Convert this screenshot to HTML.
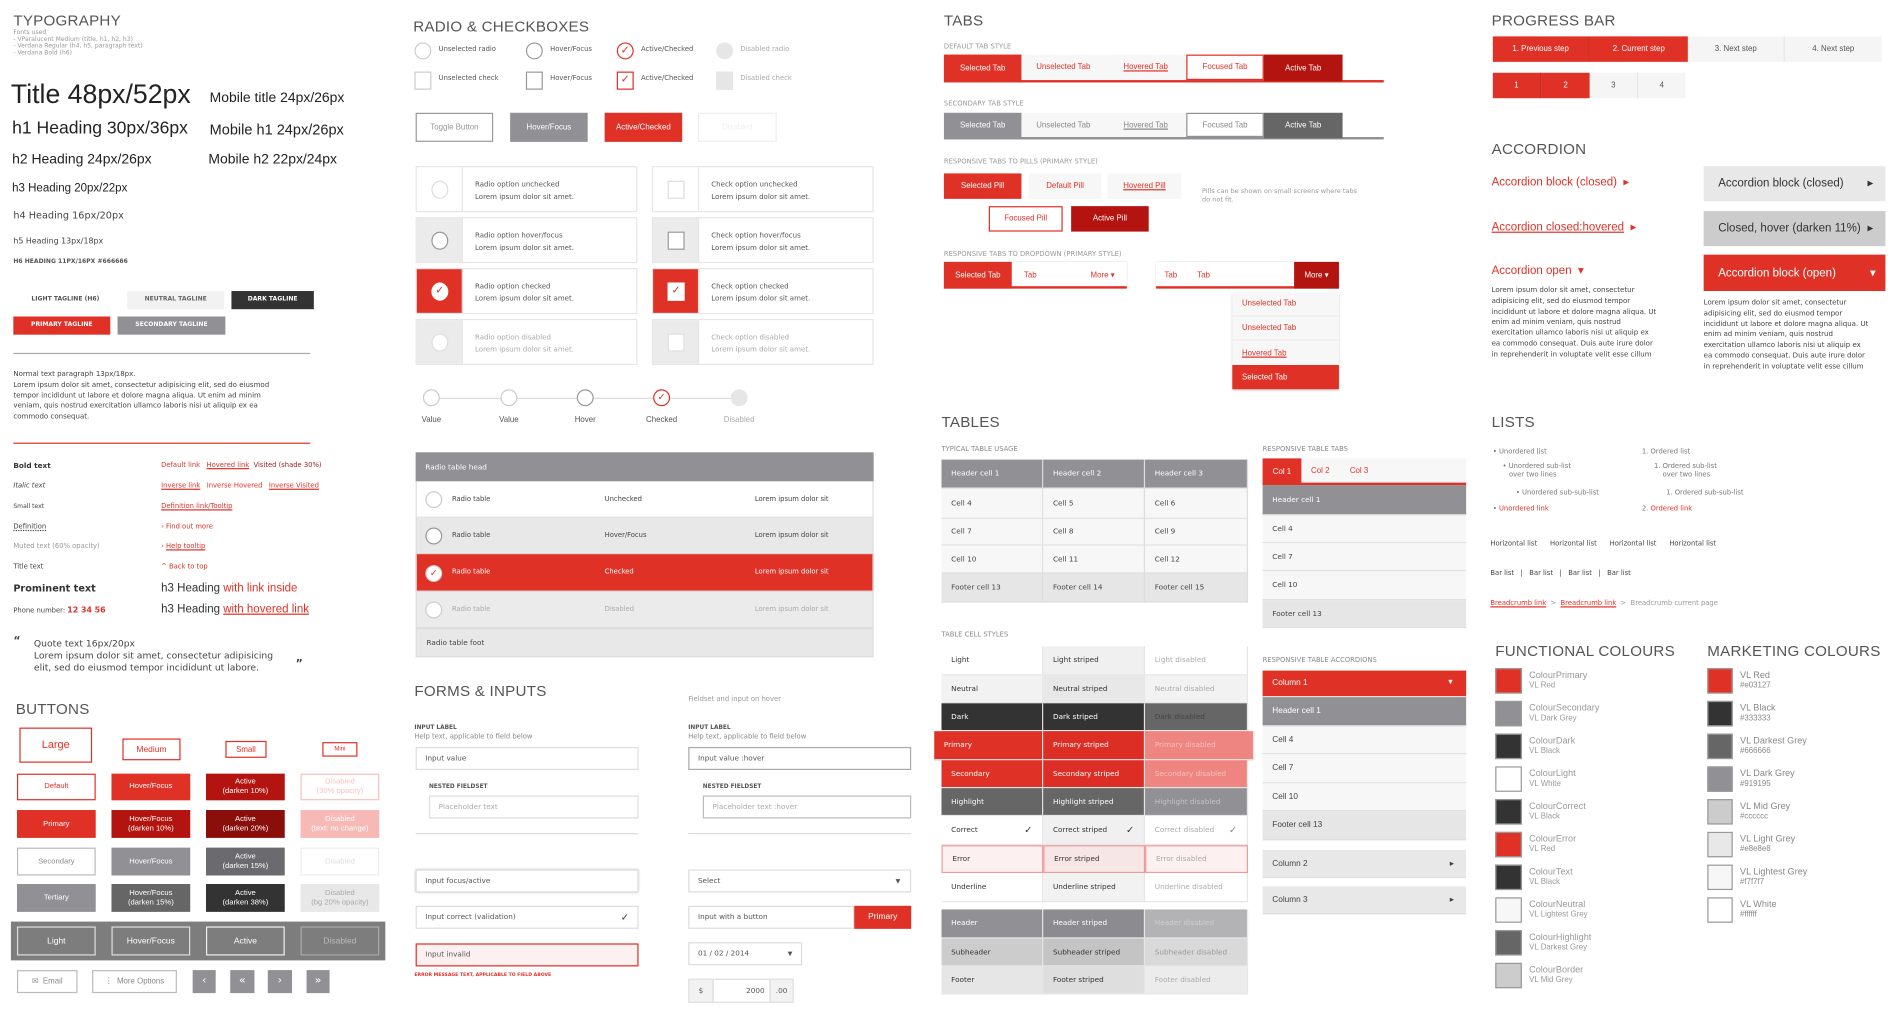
<!DOCTYPE html>
<html><head><meta charset="utf-8"><title>UI Kit</title>
<style>
html,body{margin:0;padding:0;background:#fff;width:1900px;height:1021px;overflow:hidden}
#w{position:absolute;left:0;top:0;width:1568px;height:843px;transform:scale(1.2117,1.2126);transform-origin:0 0;font-family:"DejaVu Sans","Liberation Sans",sans-serif;color:#333}
.a{position:absolute;white-space:nowrap}
.n{font-family:"Liberation Sans Narrow","Liberation Sans",sans-serif}
.h{position:absolute;font-family:"Liberation Sans Narrow","Liberation Sans",sans-serif;font-size:12.5px;color:#555;line-height:12px;white-space:nowrap;letter-spacing:.2px}
.s{position:absolute;font-size:5.6px;color:#777;line-height:7px;white-space:nowrap}
.b{position:absolute;display:flex;align-items:center;justify-content:center;box-sizing:border-box;font-size:6px;white-space:nowrap;text-align:center;line-height:7px}
.l{justify-content:flex-start;padding-left:8px}
.r{color:#e03127}
.u{text-decoration:underline}
.ci{position:absolute;box-sizing:border-box;border:1px solid #ccc;border-radius:50%;background:#fff}
.sq{position:absolute;box-sizing:border-box;border:1px solid #ccc;background:#fff}
.t6{font-size:6px;line-height:7px}
.card{position:absolute;box-sizing:border-box;border:1px solid #e6e6e6;background:#fff;width:183px;height:38px}
.ico{position:absolute;left:0;top:0;width:38px;height:100%;box-sizing:border-box;border-right:1px solid #e6e6e6}
.ct{position:absolute;left:48px;top:10px;font-size:5.8px;line-height:10px;color:#555;white-space:nowrap}
.rt{position:absolute;left:343px;width:378px;box-sizing:border-box}
.inp{position:absolute;box-sizing:border-box;border:1px solid #ddd;background:#fff;font-size:6px;display:flex;align-items:center;padding-left:7px;color:#555}
</style></head>
<body>
<div id="w">

<!-- TYPOGRAPHY -->
<div class="h" style="left:11px;top:11px">TYPOGRAPHY</div>
<div class="s" style="left:11px;top:25px;font-size:5px;line-height:5.6px;color:#999">Fonts used<br>- VParalucent Medium (title, h1, h2, h3)<br>- Verdana Regular (h4, h5, paragraph text)<br>- Verdana Bold (h6)</div>
<div class="a n" style="left:9px;top:67px;font-size:22px;line-height:22px;color:#222">Title 48px/52px</div>
<div class="a n" style="left:173px;top:75px;font-size:11.5px;line-height:12px;color:#222">Mobile title 24px/26px</div>
<div class="a n" style="left:10px;top:99px;font-size:14.5px;line-height:15px;color:#222">h1 Heading 30px/36px</div>
<div class="a n" style="left:173px;top:101px;font-size:12px;line-height:12px;color:#222">Mobile h1 24px/26px</div>
<div class="a n" style="left:10px;top:126px;font-size:11.5px;line-height:12px;color:#222">h2 Heading 24px/26px</div>
<div class="a n" style="left:172px;top:126px;font-size:11.5px;line-height:12px;color:#222">Mobile h2 22px/24px</div>
<div class="a n" style="left:10px;top:151px;font-size:9.5px;line-height:10px;color:#222">h3 Heading 20px/22px</div>
<div class="a" style="left:11px;top:173px;font-size:8px;line-height:9px;color:#444">h4 Heading 16px/20px</div>
<div class="a" style="left:11px;top:195px;font-size:6.5px;line-height:8px;color:#444">h5 Heading 13px/18px</div>
<div class="a" style="left:11px;top:213px;font-size:5px;line-height:6px;color:#555;font-weight:bold">H6 HEADING 11PX/16PX #666666</div>
<div class="b" style="left:11px;top:240px;width:86px;height:15px;font-size:5px;font-weight:bold;color:#555">LIGHT TAGLINE (H6)</div>
<div class="b" style="left:105px;top:240px;width:80px;height:15px;font-size:5px;font-weight:bold;color:#666;background:#f2f2f2">NEUTRAL TAGLINE</div>
<div class="b" style="left:191px;top:240px;width:68px;height:15px;font-size:5px;font-weight:bold;color:#fff;background:#333">DARK TAGLINE</div>
<div class="b" style="left:11px;top:261px;width:80px;height:15px;font-size:5px;font-weight:bold;color:#fff;background:#e03127">PRIMARY TAGLINE</div>
<div class="b" style="left:97px;top:261px;width:89px;height:15px;font-size:5px;font-weight:bold;color:#fff;background:#919195">SECONDARY TAGLINE</div>
<div class="a" style="left:11px;top:291px;width:245px;height:1px;background:#aaa"></div>
<div class="s" style="left:11px;top:305px;font-size:5.8px;line-height:8.8px;color:#444">Normal text paragraph 13px/18px.<br>Lorem ipsum dolor sit amet, consectetur adipisicing elit, sed do eiusmod<br>tempor incididunt ut labore et dolore magna aliqua. Ut enim ad minim<br>veniam, quis nostrud exercitation ullamco laboris nisi ut aliquip ex ea<br>commodo consequat.</div>
<div class="a" style="left:11px;top:365px;width:245px;height:1px;background:#e03127"></div>

<div class="s" style="left:11px;top:381px;font-weight:bold;color:#333;font-size:6px">Bold text</div>
<div class="s" style="left:11px;top:398px;font-style:italic;color:#444">Italic text</div>
<div class="s" style="left:11px;top:415px;font-size:5px;color:#444">Small text</div>
<div class="s u" style="left:11px;top:432px;color:#444;text-decoration-style:dotted">Definition</div>
<div class="s" style="left:11px;top:448px;color:#999">Muted text (60% opacity)</div>
<div class="s" style="left:11px;top:465px;color:#444">Title text</div>
<div class="a" style="left:11px;top:481px;font-size:8px;line-height:10px;font-weight:bold;color:#333">Prominent text</div>
<div class="s" style="left:11px;top:500px;color:#444">Phone number: <b class="r" style="font-size:6.5px">12 34 56</b></div>

<div class="s r" style="left:133px;top:381px">Default link &nbsp; <span class="u">Hovered link</span> &nbsp;<span style="color:#9c1d16">Visited (shade 30%)</span></div>
<div class="s r" style="left:133px;top:398px"><span class="u">Inverse link</span> &nbsp; Inverse Hovered &nbsp; <span class="u">Inverse Visited</span></div>
<div class="s r u" style="left:133px;top:415px">Definition link/Tooltip</div>
<div class="s r" style="left:133px;top:432px">› Find out more</div>
<div class="s r" style="left:133px;top:448px">› <span class="u">Help tooltip</span></div>
<div class="s r" style="left:133px;top:465px">^ Back to top</div>
<div class="a n" style="left:133px;top:480px;font-size:9.5px;line-height:11px;color:#333">h3 Heading <span class="r">with link inside</span></div>
<div class="a n" style="left:133px;top:497px;font-size:9.5px;line-height:11px;color:#333">h3 Heading <span class="r u">with hovered link</span></div>
<div class="a" style="left:11px;top:524px;font-size:9px;font-weight:bold;color:#444">“</div>
<div class="a" style="left:28px;top:526px;font-size:7.6px;line-height:10px;color:#444">Quote text 16px/20px<br>Lorem ipsum dolor sit amet, consectetur adipisicing<br>elit, sed do eiusmod tempor incididunt ut labore.</div>
<div class="a" style="left:244px;top:543px;font-size:9px;font-weight:bold;color:#444">”</div>

<!-- BUTTONS -->
<div class="h" style="left:13px;top:579px">BUTTONS</div>
<div class="b n" style="left:16px;top:600px;width:60px;height:29px;border:1px solid #e03127;color:#e03127;font-size:9px">Large</div>
<div class="b n" style="left:101px;top:609px;width:48px;height:18px;border:1px solid #e03127;color:#e03127;font-size:7px">Medium</div>
<div class="b n" style="left:186px;top:611px;width:34px;height:14px;border:1px solid #e03127;color:#e03127;font-size:6.5px">Small</div>
<div class="b n" style="left:266px;top:612px;width:29px;height:12px;border:1px solid #e03127;color:#e03127;font-size:5px">Mini</div>
<div id="btngrid"></div>
<div class="a" style="left:9px;top:760px;width:309px;height:32px;background:#7d7d7d"></div>
<div class="b n" style="left:14px;top:764px;width:65px;height:24px;border:1px solid #ddd;color:#fff;font-size:7px">Light</div>
<div class="b n" style="left:92px;top:764px;width:65px;height:24px;border:1px solid #ddd;color:#fff;font-size:7px">Hover/Focus</div>
<div class="b n" style="left:170px;top:764px;width:65px;height:24px;border:1px solid #eee;color:#fff;font-size:7px">Active</div>
<div class="b n" style="left:248px;top:764px;width:65px;height:24px;border:1px solid #aaa;color:#bbb;font-size:7px">Disabled</div>
<div class="b n" style="left:14px;top:800px;width:50px;height:19px;border:1px solid #bbb;color:#888;font-size:6.5px">✉ &nbsp;Email</div>
<div class="b n" style="left:76px;top:800px;width:70px;height:19px;border:1px solid #bbb;color:#888;font-size:6.5px">⋮ &nbsp;More Options</div>
<div class="b" style="left:159px;top:800px;width:19px;height:19px;background:#919195;color:#fff;font-size:9px">‹</div>
<div class="b" style="left:190px;top:800px;width:20px;height:19px;background:#919195;color:#fff;font-size:9px">«</div>
<div class="b" style="left:221px;top:800px;width:20px;height:19px;background:#919195;color:#fff;font-size:9px">›</div>
<div class="b" style="left:253px;top:800px;width:19px;height:19px;background:#919195;color:#fff;font-size:9px">»</div>

<!-- RADIO & CHECKBOXES -->
<div class="h" style="left:341px;top:16px">RADIO &amp; CHECKBOXES</div>
<div class="ci" style="left:342px;top:35px;width:14px;height:14px"></div>
<div class="s" style="left:362px;top:38px;color:#555">Unselected radio</div>
<div class="ci" style="left:434px;top:35px;width:14px;height:14px;border-color:#999"></div>
<div class="s" style="left:454px;top:38px;color:#555">Hover/Focus</div>
<div class="ci r" style="left:509px;top:35px;width:14px;height:14px;border-color:#e03127;font-size:9px;text-align:center;line-height:12px">✓</div>
<div class="s" style="left:529px;top:38px;color:#555">Active/Checked</div>
<div class="ci" style="left:591px;top:35px;width:14px;height:14px;background:#e6e6e6;border-color:#e6e6e6"></div>
<div class="s" style="left:611px;top:38px;color:#aaa">Disabled radio</div>
<div class="sq" style="left:342px;top:59px;width:14px;height:15px"></div>
<div class="s" style="left:362px;top:62px;color:#555">Unselected check</div>
<div class="sq" style="left:434px;top:59px;width:14px;height:15px;border-color:#999"></div>
<div class="s" style="left:454px;top:62px;color:#555">Hover/Focus</div>
<div class="sq r" style="left:509px;top:59px;width:14px;height:15px;border-color:#e03127;font-size:9px;text-align:center;line-height:13px">✓</div>
<div class="s" style="left:529px;top:62px;color:#555">Active/Checked</div>
<div class="sq" style="left:591px;top:59px;width:14px;height:15px;background:#e6e6e6;border-color:#e6e6e6"></div>
<div class="s" style="left:611px;top:62px;color:#aaa">Disabled check</div>

<div class="b n" style="left:343px;top:93px;width:64px;height:24px;border:1px solid #999;color:#999;font-size:6.5px">Toggle Button</div>
<div class="b n" style="left:421px;top:93px;width:64px;height:24px;background:#919195;color:#fff;font-size:6.5px">Hover/Focus</div>
<div class="b n" style="left:499px;top:93px;width:64px;height:24px;background:#e03127;color:#fff;font-size:6.5px">Active/Checked</div>
<div class="b n" style="left:576px;top:93px;width:65px;height:24px;border:1px solid #eee;color:#eee;font-size:6.5px">Disabled</div>

<div id="cards"></div>

<div class="a" style="left:356px;top:328px;width:254px;height:1px;background:#ddd"></div>
<div id="slider"></div>

<div class="rt b l" style="top:373px;height:24px;background:#919195;color:#fff">Radio table head</div>
<div id="rtable"></div>
<div class="rt b l" style="top:518px;height:24px;background:#e8e8e8;color:#444;border:1px solid #ddd">Radio table foot</div>

<!-- FORMS -->
<div class="h" style="left:342px;top:564px">FORMS &amp; INPUTS</div>
<div class="s" style="left:568px;top:574px;color:#999">Fieldset and input on hover</div>
<div class="s" style="left:342px;top:597px;font-size:4.8px;font-weight:bold;color:#555">INPUT LABEL</div>
<div class="s" style="left:342px;top:605px;color:#888">Help text, applicable to field below</div>
<div class="s" style="left:568px;top:597px;font-size:4.8px;font-weight:bold;color:#555">INPUT LABEL</div>
<div class="s" style="left:568px;top:605px;color:#888">Help text, applicable to field below</div>
<div class="inp" style="left:343px;top:616px;width:184px;height:19px">Input value</div>
<div class="inp" style="left:568px;top:616px;width:184px;height:19px;border-color:#aaa">Input value :hover</div>
<div class="s" style="left:354px;top:646px;font-size:4.8px;font-weight:bold;color:#555">NESTED FIELDSET</div>
<div class="s" style="left:580px;top:646px;font-size:4.8px;font-weight:bold;color:#555">NESTED FIELDSET</div>
<div class="inp" style="left:354px;top:656px;width:173px;height:19px;color:#aaa">Placeholder text</div>
<div class="inp" style="left:580px;top:656px;width:172px;height:19px;color:#aaa;border-color:#bbb">Placeholder text :hover</div>
<div class="a" style="left:343px;top:687px;width:184px;height:1px;background:#ddd"></div>
<div class="a" style="left:568px;top:687px;width:184px;height:1px;background:#ddd"></div>
<div class="inp" style="left:343px;top:717px;width:184px;height:19px;box-shadow:0 0 2px #aaa">Input focus/active</div>
<div class="inp" style="left:343px;top:747px;width:184px;height:19px">Input correct (validation)<span style="position:absolute;right:7px;font-size:8px;color:#333">✓</span></div>
<div class="inp" style="left:343px;top:778px;width:184px;height:19px;border-color:#e03127;background:#fdf0f0">Input invalid</div>
<div class="s r" style="left:342px;top:800px;font-size:3.8px;font-weight:bold">ERROR MESSAGE TEXT, APPLICABLE TO FIELD ABOVE</div>
<div class="inp" style="left:568px;top:717px;width:184px;height:19px">Select<span style="position:absolute;right:8px;font-size:5px">▼</span></div>
<div class="inp" style="left:568px;top:747px;width:137px;height:19px">Input with a button</div>
<div class="b n" style="left:705px;top:747px;width:47px;height:19px;background:#e03127;color:#fff;font-size:7px">Primary</div>
<div class="inp" style="left:568px;top:777px;width:94px;height:19px">01 / 02 / 2014<span style="position:absolute;right:7px;font-size:5px">▼</span></div>
<div class="inp" style="left:568px;top:807px;width:87px;height:20px;padding:0"><span style="width:19px;height:100%;background:#f2f2f2;display:flex;align-items:center;justify-content:center;border-right:1px solid #ddd">$</span><span style="width:42px;text-align:right;padding-right:4px">2000</span><span style="flex:1;height:100%;background:#f2f2f2;display:flex;align-items:center;justify-content:center;border-left:1px solid #ddd">.00</span></div>

<!-- TABS -->
<div class="h" style="left:779px;top:11px">TABS</div>
<div class="s" style="left:779px;top:36px;color:#999">DEFAULT TAB STYLE</div>
<div class="a" style="left:779px;top:66px;width:363px;height:2px;background:#e03127"></div>
<div class="b n" style="left:779px;top:45px;width:64px;height:22px;background:#e03127;color:#fff;font-size:6.5px">Selected Tab</div>
<div class="b n r" style="left:843px;top:45px;width:69px;height:21px;background:#f7f7f7;font-size:6.5px">Unselected Tab</div>
<div class="b n r u" style="left:912px;top:45px;width:67px;height:21px;background:#f7f7f7;font-size:6.5px">Hovered Tab</div>
<div class="b n r" style="left:979px;top:45px;width:64px;height:21px;border:1px solid #e03127;background:#fff;font-size:6.5px">Focused Tab</div>
<div class="b n" style="left:1043px;top:45px;width:65px;height:22px;background:#b3140f;color:#fff;font-size:6.5px">Active Tab</div>
<div class="s" style="left:779px;top:83px;color:#999">SECONDARY TAB STYLE</div>
<div class="a" style="left:779px;top:113px;width:363px;height:2px;background:#919195"></div>
<div class="b n" style="left:779px;top:93px;width:64px;height:21px;background:#919195;color:#fff;font-size:6.5px">Selected Tab</div>
<div class="b n" style="left:843px;top:93px;width:69px;height:20px;background:#f7f7f7;color:#888;font-size:6.5px">Unselected Tab</div>
<div class="b n u" style="left:912px;top:93px;width:67px;height:20px;background:#f7f7f7;color:#888;font-size:6.5px">Hovered Tab</div>
<div class="b n" style="left:979px;top:93px;width:64px;height:20px;border:1px solid #919195;color:#888;font-size:6.5px">Focused Tab</div>
<div class="b n" style="left:1043px;top:93px;width:65px;height:21px;background:#666;color:#fff;font-size:6.5px">Active Tab</div>
<div class="s" style="left:779px;top:131px;color:#999">RESPONSIVE TABS TO PILLS (PRIMARY STYLE)</div>
<div class="b n" style="left:779px;top:143px;width:64px;height:21px;background:#e03127;color:#fff;font-size:6.5px">Selected Pill</div>
<div class="b n r" style="left:849px;top:143px;width:60px;height:21px;background:#f7f7f7;font-size:6.5px">Default Pill</div>
<div class="b n r u" style="left:914px;top:143px;width:61px;height:21px;background:#f7f7f7;font-size:6.5px">Hovered Pill</div>
<div class="b n r" style="left:816px;top:170px;width:61px;height:21px;border:1px solid #e03127;font-size:6.5px">Focused Pill</div>
<div class="b n" style="left:884px;top:170px;width:64px;height:21px;background:#b3140f;color:#fff;font-size:6.5px">Active Pill</div>
<div class="s" style="left:992px;top:155px;color:#999;font-size:5.4px;line-height:6.5px">Pills can be shown on small screens where tabs<br>do not fit.</div>
<div class="s" style="left:779px;top:207px;color:#999">RESPONSIVE TABS TO DROPDOWN (PRIMARY STYLE)</div>
<div class="a" style="left:779px;top:216px;width:151px;height:22px;background:#fff;box-shadow:0 0 1px #ccc;border-bottom:2px solid #e03127;box-sizing:border-box"></div>
<div class="b n" style="left:779px;top:216px;width:56px;height:22px;background:#e03127;color:#fff;font-size:6.5px">Selected Tab</div>
<div class="s n r" style="left:845px;top:224px;font-size:6.5px">Tab</div>
<div class="s n r" style="left:900px;top:224px;font-size:6.5px">More ▾</div>
<div class="a" style="left:954px;top:216px;width:151px;height:22px;background:#fff;box-shadow:0 0 1px #ccc;border-bottom:2px solid #e03127;box-sizing:border-box"></div>
<div class="s n r" style="left:961px;top:224px;font-size:6.5px">Tab</div>
<div class="s n r" style="left:988px;top:224px;font-size:6.5px">Tab</div>
<div class="b n" style="left:1068px;top:216px;width:37px;height:22px;background:#b3140f;color:#fff;font-size:6.5px">More ▾</div>
<div class="a" style="left:1017px;top:241px;width:88px;height:80px;background:#f7f7f7;box-shadow:0 1px 2px #bbb"></div>
<div class="b n r l" style="left:1017px;top:241px;width:88px;height:20px;font-size:6.5px;border-bottom:1px solid #eee">Unselected Tab</div>
<div class="b n r l" style="left:1017px;top:261px;width:88px;height:20px;font-size:6.5px;border-bottom:1px solid #eee">Unselected Tab</div>
<div class="b n r l u" style="left:1017px;top:281px;width:88px;height:20px;font-size:6.5px">Hovered Tab</div>
<div class="b n l" style="left:1017px;top:301px;width:88px;height:20px;font-size:6.5px;background:#e03127;color:#fff">Selected Tab</div>

<!-- PROGRESS -->
<div class="h" style="left:1231px;top:11px">PROGRESS BAR</div>
<div class="b n" style="left:1232px;top:30px;width:80px;height:21px;background:#e03127;color:#fff;font-size:6.5px;border-right:1px solid #c42a21">1. Previous step</div>
<div class="b n" style="left:1312px;top:30px;width:81px;height:21px;background:#e03127;color:#fff;font-size:6.5px">2. Current step</div>
<div class="b n" style="left:1393px;top:30px;width:80px;height:21px;background:#f5f5f5;color:#555;font-size:6.5px;border-right:1px solid #e6e6e6">3. Next step</div>
<div class="b n" style="left:1473px;top:30px;width:80px;height:21px;background:#f5f5f5;color:#555;font-size:6.5px">4. Next step</div>
<div class="b n" style="left:1232px;top:60px;width:40px;height:21px;background:#e03127;color:#fff;font-size:6.5px;border-right:1px solid #c42a21">1</div>
<div class="b n" style="left:1272px;top:60px;width:40px;height:21px;background:#e03127;color:#fff;font-size:6.5px">2</div>
<div class="b n" style="left:1312px;top:60px;width:40px;height:21px;background:#f5f5f5;color:#555;font-size:6.5px;border-right:1px solid #e6e6e6">3</div>
<div class="b n" style="left:1352px;top:60px;width:39px;height:21px;background:#f5f5f5;color:#555;font-size:6.5px">4</div>

<!-- ACCORDION -->
<div class="h" style="left:1231px;top:117px">ACCORDION</div>
<div class="a n r" style="left:1231px;top:146px;font-size:9.5px;line-height:10px">Accordion block (closed) &nbsp;▸</div>
<div class="a n r" style="left:1231px;top:183px;font-size:9.5px;line-height:10px"><span class="u">Accordion closed:hovered</span> &nbsp;▸</div>
<div class="a n r" style="left:1231px;top:219px;font-size:9.5px;line-height:10px">Accordion open &nbsp;▾</div>
<div class="s" style="left:1231px;top:236px;font-size:5.8px;line-height:8.8px;color:#444">Lorem ipsum dolor sit amet, consectetur<br>adipisicing elit, sed do eiusmod tempor<br>incididunt ut labore et dolore magna aliqua. Ut<br>enim ad minim veniam, quis nostrud<br>exercitation ullamco laboris nisi ut aliquip ex<br>ea commodo consequat. Duis aute irure dolor<br>in reprehenderit in voluptate velit esse cillum</div>
<div class="b n l" style="left:1406px;top:137px;width:150px;height:29px;background:#e8e8e8;color:#333;font-size:9.5px;padding-left:12px">Accordion block (closed)<span style="position:absolute;right:10px">▸</span></div>
<div class="b n l" style="left:1406px;top:174px;width:150px;height:29px;background:#ccc;color:#333;font-size:9.5px;padding-left:12px">Closed, hover (darken 11%)<span style="position:absolute;right:10px">▸</span></div>
<div class="b n l" style="left:1406px;top:210px;width:150px;height:30px;background:#e03127;color:#fff;font-size:9.5px;padding-left:12px">Accordion block (open)<span style="position:absolute;right:8px">▾</span></div>
<div class="s" style="left:1406px;top:246px;font-size:5.8px;line-height:8.8px;color:#444">Lorem ipsum dolor sit amet, consectetur<br>adipisicing elit, sed do eiusmod tempor<br>incididunt ut labore et dolore magna aliqua. Ut<br>enim ad minim veniam, quis nostrud<br>exercitation ullamco laboris nisi ut aliquip ex<br>ea commodo consequat. Duis aute irure dolor<br>in reprehenderit in voluptate velit esse cillum</div>

<!-- LISTS -->
<div class="h" style="left:1231px;top:342px">LISTS</div>
<div class="s" style="left:1232px;top:370px;line-height:7px">• Unordered list</div>
<div class="s" style="left:1240px;top:382px">• Unordered sub-list<br>&nbsp;&nbsp;&nbsp;over two lines</div>
<div class="s" style="left:1251px;top:404px">• Unordered sub-sub-list</div>
<div class="s" style="left:1232px;top:417px">• <span class="r">Unordered link</span></div>
<div class="s" style="left:1355px;top:370px">1. Ordered list</div>
<div class="s" style="left:1365px;top:382px">1. Ordered sub-list<br>&nbsp;&nbsp;&nbsp;&nbsp;over two lines</div>
<div class="s" style="left:1375px;top:404px">1. Ordered sub-sub-list</div>
<div class="s" style="left:1355px;top:417px">2. <span class="r">Ordered link</span></div>
<div class="s" style="left:1230px;top:446px;color:#444">Horizontal list &nbsp;&nbsp;&nbsp;&nbsp; Horizontal list &nbsp;&nbsp;&nbsp;&nbsp; Horizontal list &nbsp;&nbsp;&nbsp;&nbsp; Horizontal list</div>
<div class="s" style="left:1230px;top:470px;color:#444">Bar list &nbsp; | &nbsp; Bar list &nbsp; | &nbsp; Bar list &nbsp; | &nbsp; Bar list</div>
<div class="s" style="left:1230px;top:495px;color:#999"><span class="r u">Breadcrumb link</span> &nbsp;&gt;&nbsp; <span class="r u">Breadcrumb link</span> &nbsp;&gt;&nbsp; Breadcrumb current page</div>

<!-- TABLES -->
<div class="h" style="left:777px;top:342px">TABLES</div>
<div class="s" style="left:777px;top:368px;color:#888">TYPICAL TABLE USAGE</div>
<div id="ttable"></div>
<div class="s" style="left:1042px;top:368px;color:#888">RESPONSIVE TABLE TABS</div>
<div class="a" style="left:1042px;top:378px;width:168px;height:22px;background:#f7f7f7;border-bottom:2px solid #e03127;box-sizing:border-box"></div>
<div class="b n" style="left:1042px;top:378px;width:32px;height:22px;background:#e03127;color:#fff;font-size:6.5px">Col 1</div>
<div class="s n r" style="left:1082px;top:385px;font-size:6.5px">Col 2</div>
<div class="s n r" style="left:1114px;top:385px;font-size:6.5px">Col 3</div>
<div id="rtabs"></div>
<div class="s" style="left:777px;top:521px;color:#888">TABLE CELL STYLES</div>
<div id="cstyles"></div>
<div class="s" style="left:1042px;top:542px;color:#888">RESPONSIVE TABLE ACCORDIONS</div>
<div id="racc"></div>

<!-- COLOURS -->
<div class="h" style="left:1234px;top:531px">FUNCTIONAL COLOURS</div>
<div class="h" style="left:1409px;top:531px">MARKETING COLOURS</div>
<div id="swatches"></div>
</div>

<script>
var W = document.getElementById('w');
function mk(parent, cls, css, text) {
  var d = document.createElement('div');
  d.className = cls;
  d.style.cssText = css;
  if (text !== undefined) d.innerHTML = text;
  parent.appendChild(d);
  return d;
}

// Button grid
var btnRowsY = [638, 668, 699, 729];
var btnColsX = [14, 92, 170, 248];
var btnLabels = [
  ['Default','Hover/Focus','Active<br>(darken 10%)','Disabled<br>(30% opacity)'],
  ['Primary','Hover/Focus<br>(darken 10%)','Active<br>(darken 20%)','Disabled<br>(text: no change)'],
  ['Secondary','Hover/Focus','Active<br>(darken 15%)','Disabled'],
  ['Tertiary','Hover/Focus<br>(darken 15%)','Active<br>(darken 38%)','Disabled<br>(bg 20% opacity)']
];
var btnStyles = [
  ['border:1px solid #e03127;color:#e03127','background:#e03127;color:#fff','background:#b3140f;color:#fff','border:1px solid #f6c1be;color:#f6c1be'],
  ['background:#e03127;color:#fff','background:#b3140f;color:#fff','background:#8a0f0b;color:#fff','background:#f6b9b5;color:#fff'],
  ['border:1px solid #bbb;color:#888','background:#919195;color:#fff','background:#6b6b6f;color:#fff','border:1px solid #eee;color:#ddd'],
  ['background:#919195;color:#fff','background:#666;color:#fff','background:#333;color:#fff','background:#e8e8e8;color:#aaa']
];
var grid = document.getElementById('btngrid');
for (var r = 0; r < 4; r++) for (var c = 0; c < 4; c++) {
  var bt = mk(grid, 'b n', 'left:' + btnColsX[c] + 'px;top:' + btnRowsY[r] + 'px;width:65px;height:' + (r===0?22:23) + 'px;font-size:6.3px;line-height:8px;' + btnStyles[r][c], btnLabels[r][c]);
  
  
}

// Option cards
var cardY = [137, 179, 221, 263];
var cardKinds = ['unchecked','hover/focus','checked','disabled'];
var cards = document.getElementById('cards');
for (var i = 0; i < 4; i++) for (var k = 0; k < 2; k++) {
  var x = k === 0 ? 343 : 538;
  var cd = mk(cards, 'card', 'left:' + x + 'px;top:' + cardY[i] + 'px');
  
  
  var bg = i===1 ? '#ebebeb' : (i===2 ? '#e03127' : (i===3 ? '#ebebeb' : '#fff'));
  var ic = mk(cd, 'ico', 'background:' + bg);
  var sym = i===2 ? '✓' : '';
  var mark = mk(ic, '', 'position:absolute;left:12px;top:11px;width:14px;height:15px;box-sizing:border-box;background:#fff;border:1px solid ' + (i===1?'#999':(i===2?'#fff':'#ddd')) + ';' + (k===0?'border-radius:50%;':'') + 'color:' + (i===2?(k===0?'#e03127':'#e03127'):'#fff') + ';font-size:9px;text-align:center;line-height:13px', sym);
  var ct = mk(cd, 'ct', i===3 ? 'color:#aaa' : '', (k===0?'Radio':'Check') + ' option ' + cardKinds[i] + '<br>Lorem ipsum dolor sit amet.');
  
}

// slider
var sliderLabels = ['Value','Value','Hover','Checked','Disabled'];
var sliderX = [356, 420, 483, 546, 610];
var sl = document.getElementById('slider');
for (var j = 0; j < 5; j++) {
  var cc = mk(sl, 'ci', 'left:' + (sliderX[j]-7) + 'px;top:321px;width:14px;height:14px;text-align:center;font-size:8px;line-height:12px;' + (j===2?'border-color:#999;':'') + (j===3?'border-color:#e03127;color:#e03127;':'') + (j===4?'background:#e6e6e6;border-color:#e6e6e6;':''), j===3?'✓':'');
  
  
  var lb = mk(sl, 's n', 'left:' + (sliderX[j]-20) + 'px;width:40px;text-align:center;top:343px;font-size:6.5px;color:' + (j===4?'#aaa':'#555'), sliderLabels[j]);
  
}

// Radio table
var rtStatus = ['Unchecked','Hover/Focus','Checked','Disabled'];
var rtY = [397, 427, 457, 488];
var rtH = [30, 30, 31, 30];
var rtBg = ['#fff','#e8e8e8','#e03127','#ebebeb'];
var rtab = document.getElementById('rtable');
for (var q = 0; q < 4; q++) {
  var col = q===2 ? '#fff' : (q===3 ? '#aaa' : '#444');
  var row = mk(rtab, 'rt', 'top:' + rtY[q] + 'px;height:' + rtH[q] + 'px;background:' + rtBg[q] + ';border-left:1px solid #ddd;border-right:1px solid #ddd;border-bottom:1px solid #ddd');
  
  
  mk(row, 'ci', 'left:7px;top:' + (rtH[q]/2-7) + 'px;width:14px;height:14px;text-align:center;color:#e03127;font-size:8px;line-height:12px;' + (q===1?'border-color:#999':''), q===2?'✓':'');
  mk(row, 's', 'left:29px;top:' + (rtH[q]/2-3.5) + 'px;color:' + col, 'Radio table');
  mk(row, 's', 'left:155px;top:' + (rtH[q]/2-3.5) + 'px;color:' + col, rtStatus[q]);
  mk(row, 's', 'left:279px;top:' + (rtH[q]/2-3.5) + 'px;color:' + col, 'Lorem ipsum dolor sit');
}

// Typical table
var ttRows = [['Header cell 1','Header cell 2','Header cell 3'],['Cell 4','Cell 5','Cell 6'],['Cell 7','Cell 8','Cell 9'],['Cell 10','Cell 11','Cell 12'],['Footer cell 13','Footer cell 14','Footer cell 15']];
var ttY = [379, 403, 428, 450, 473, 497];
var ttX = [777, 861, 945, 1030];
var tt = document.getElementById('ttable');
for (var a = 0; a < 5; a++) for (var b = 0; b < 3; b++) {
  var bgc = a===0 ? '#919195' : (a===4 ? '#e6e6e6' : '#f7f7f7');
  var cell = mk(tt, 'b l', 'left:' + ttX[b] + 'px;top:' + ttY[a] + 'px;width:' + (ttX[b+1]-ttX[b]) + 'px;height:' + (ttY[a+1]-ttY[a]) + 'px;background:' + bgc + ';color:' + (a===0?'#fff':'#444') + ';border-right:1px solid #ddd;border-bottom:1px solid #e0e0e0', ttRows[a][b]);
  
  
}

// Responsive table tabs body
var rtbRows = ['Header cell 1','Cell 4','Cell 7','Cell 10','Footer cell 13'];
var rtbY = [400, 425, 448, 471, 495, 518];
var rtb = document.getElementById('rtabs');
for (var m = 0; m < 5; m++) {
  var cl = mk(rtb, 'b l', 'left:1042px;top:' + rtbY[m] + 'px;width:168px;height:' + (rtbY[m+1]-rtbY[m]) + 'px;background:' + (m===0?'#919195':(m===4?'#e6e6e6':'#f7f7f7')) + ';color:' + (m===0?'#fff':'#444') + ';border-bottom:1px solid #e0e0e0', rtbRows[m]);
  
  
}

// Cell styles
var csNames = ['Light','Neutral','Dark','Primary','Secondary','Highlight','Correct','Error','Underline','Header','Subheader','Footer'];
var csY = [533, 557, 580, 603, 627, 650, 673, 697, 720, 750, 774, 797];
var csBg = [
  ['#fff','#f0f0f0','#fff'],['#f2f2f2','#e8e8e8','#f2f2f2'],['#333','#333','#666'],['#e03127','#dc2e24','#ee8580'],
  ['#e03127','#dc2e24','#ee8580'],['#666','#666','#919195'],['#fff','#f0f0f0','#fff'],['#fdf0f0','#f7e6e6','#fdf0f0'],
  ['#fff','#f2f2f2','#fff'],['#919195','#8c8c90','#b3b3b6'],['#ccc','#c4c4c4','#d9d9d9'],['#e6e6e6','#dedede','#ececec']
];
var csFg = [
  ['#333','#333','#aaa'],['#333','#333','#aaa'],['#fff','#fff','#444'],['#fff','#fff','#f6c1be'],
  ['#fff','#fff','#f6c1be'],['#fff','#fff','#c4c4c4'],['#333','#333','#aaa'],['#333','#333','#aaa'],
  ['#333','#333','#aaa'],['#fff','#fff','#d0d0d2'],['#333','#333','#999'],['#333','#333','#aaa']
];
var csX = [777, 861, 945, 1030];
var cs = document.getElementById('cstyles');
for (var p = 0; p < 12; p++) for (var o = 0; o < 3; o++) {
  var txt = csNames[p] + (o===1 ? ' striped' : (o===2 ? ' disabled' : ''));
  if (p === 6) txt += '<span style="position:absolute;right:8px;font-size:8px;color:' + (o===2?'#888':'#333') + '">✓</span>';
  var bd = p===7 ? 'border:1px solid #f09a95;' : 'border-bottom:1px solid #e6e6e6;border-right:1px solid #e6e6e6;';
  var x0 = csX[o], w0 = csX[o+1]-csX[o];
  if (p === 3 && o === 0) { x0 = 771; w0 += 6; }
  if (p === 3 && o === 2) { w0 += 5; }
  var ce = mk(cs, 'b l', 'left:' + x0 + 'px;top:' + csY[p] + 'px;width:' + w0 + 'px;height:' + ((p===8?744:(p===11?820:csY[p+1]))-csY[p]) + 'px;background:' + csBg[p][o] + ';color:' + csFg[p][o] + ';' + bd, txt);
  
  
}

// Responsive table accordions
var raNames = ['Column 1','Header cell 1','Cell 4','Cell 7','Cell 10','Footer cell 13','Column 2','Column 3'];
var raY = [553, 575, 599, 622, 646, 669, 701, 731];
var raH = [22, 24, 23, 24, 23, 24, 23, 23];
var raBg = ['#e03127','#919195','#f7f7f7','#f7f7f7','#f7f7f7','#e6e6e6','#e8e8e8','#e8e8e8'];
var ra = document.getElementById('racc');
for (var z = 0; z < 8; z++) {
  var arrow = z===0 ? '<span style="position:absolute;right:10px;font-size:6px">▼</span>' : (z>=6 ? '<span style="position:absolute;right:10px;font-size:7px">▸</span>' : '');
  var rr = mk(ra, 'b l n', 'left:1042px;top:' + raY[z] + 'px;width:168px;height:' + raH[z] + 'px;font-size:6.8px;background:' + raBg[z] + ';color:' + (z<2?'#fff':'#444') + ';border-bottom:1px solid #e0e0e0', raNames[z] + arrow);
  
  
}

// Colour swatches
var fNames = ['ColourPrimary','ColourSecondary','ColourDark','ColourLight','ColourCorrect','ColourError','ColourText','ColourNeutral','ColourHighlight','ColourBorder'];
var fSubs = ['VL Red','VL Dark Grey','VL Black','VL White','VL Black','VL Red','VL Black','VL Lightest Grey','VL Darkest Grey','VL Mid Grey'];
var fCols = ['#e03127','#919195','#333333','#ffffff','#333333','#e03127','#333333','#f7f7f7','#666666','#cccccc'];
var mNames = ['VL Red','VL Black','VL Darkest Grey','VL Dark Grey','VL Mid Grey','VL Light Grey','VL Lightest Grey','VL White'];
var mSubs = ['#e03127','#333333','#666666','#919195','#cccccc','#e8e8e8','#f7f7f7','#ffffff'];
var sw = document.getElementById('swatches');
for (var f = 0; f < fNames.length; f++) {
  var y0 = 551 + f * 27;
  var s1 = mk(sw, 'a', 'left:1234px;top:' + y0 + 'px;width:22px;height:21px;box-sizing:border-box;border:1px solid #999;background:' + fCols[f]);
  
  
  var t1 = mk(sw, 'a n', 'left:1262px;top:' + (y0+2) + 'px;font-size:7.5px;line-height:8px;color:#999', fNames[f] + '<br><span style="font-size:6.5px">' + fSubs[f] + '</span>');
  
  
}
for (var g = 0; g < mNames.length; g++) {
  var y1 = 551 + g * 27;
  var s2 = mk(sw, 'a', 'left:1409px;top:' + y1 + 'px;width:21px;height:21px;box-sizing:border-box;border:1px solid #999;background:' + mSubs[g]);
  
  
  var t2 = mk(sw, 'a n', 'left:1436px;top:' + (y1+2) + 'px;font-size:7.5px;line-height:8px;color:#888', mNames[g] + '<br><span style="font-size:6.5px">' + mSubs[g] + '</span>');
  
  
}
</script>
</body></html>
